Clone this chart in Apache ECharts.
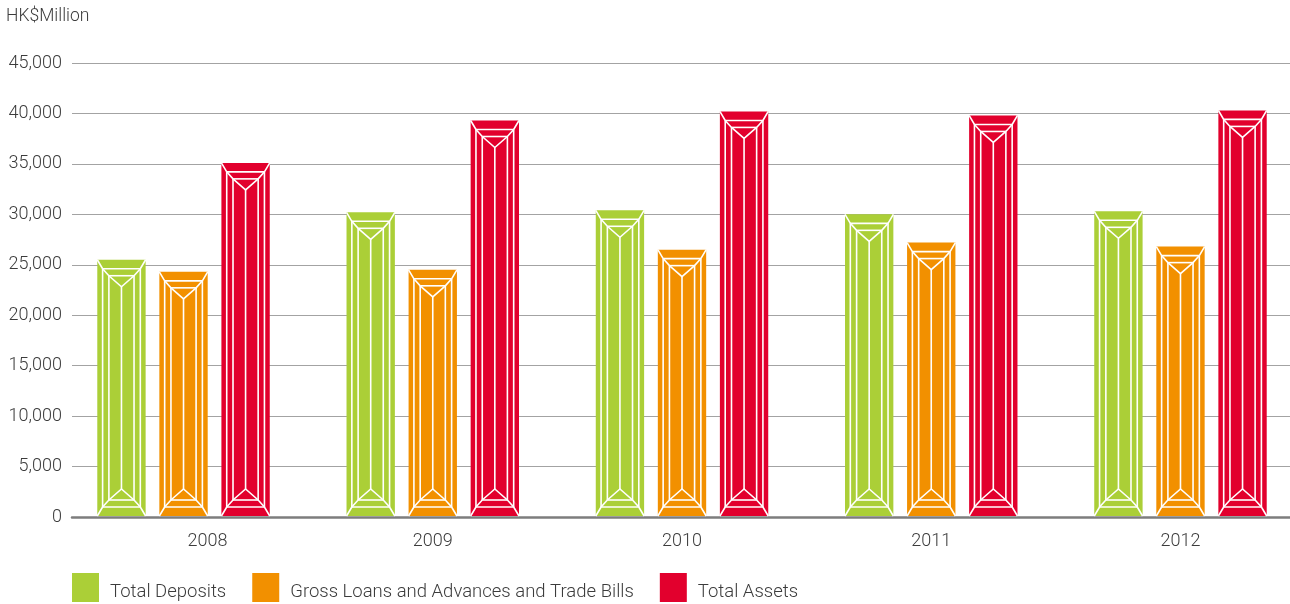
<!DOCTYPE html>
<html>
<head>
<meta charset="utf-8">
<script src="https://cdn.jsdelivr.net/npm/echarts@6/dist/echarts.min.js"></script>
<style>
  html, body { margin: 0; padding: 0; background: #ffffff; }
  #chart { width: 1290px; height: 604px; }
</style>
</head>
<body>
<div id="chart"></div>
<script>
// Financial highlights, HK$ million, year-end figures
const years = ['2008', '2009', '2010', '2011', '2012'];
const totalDeposits = [25500, 30200, 30400, 30000, 30300];
const grossLoans = [24300, 24500, 26500, 27200, 26800];
const totalAssets = [35100, 39300, 40200, 39800, 40300];
const seriesNames = ['Total Deposits', 'Gross Loans and Advances and Trade Bills', 'Total Assets'];
const seriesColors = ['#abcf37', '#f29000', '#e2002d'];
const yMin = 0, yMax = 45000, yStep = 5000;

const FONT = 'Roboto, "Liberation Sans", sans-serif';
const TEXT = '#3c3c3c';
const WEIGHT = 300;

// Faceted "gem" bar: solid block with white facet lines, placed in the category band
function gemRenderer(slot) {
  return function (params, api) {
    const cat = api.value(0);
    const val = api.value(1);
    const topPt = api.coord([cat, val]);
    const basePt = api.coord([cat, 0]);
    const band = api.size([1, 0])[0];
    const W = band * 0.194;
    const pitch = band * 0.249;
    const C = topPt[0] + (slot - 1) * pitch;
    const L = C - W / 2, R = C + W / 2;
    const T = topPt[1], B = basePt[1] - 1;
    const a = W * 0.11, b = W * 0.24;
    const h1 = 9, h2 = 16, h3 = 27;
    const ls = { stroke: '#ffffff', lineWidth: 1.6, fill: null };
    const seg = (x1, y1, x2, y2) => ({ type: 'line', shape: { x1, y1, x2, y2 }, style: ls });
    const poly = pts => ({ type: 'polyline', shape: { points: pts }, style: ls });
    return {
      type: 'group',
      children: [
        { type: 'rect', shape: { x: L, y: T, width: W, height: B - T }, style: { fill: api.visual('color') } },
        // crown
        poly([[L, T], [L + a, T + h1], [L + b, T + h2], [C, T + h3], [R - b, T + h2], [R - a, T + h1], [R, T]]),
        seg(L + a, T + h1, R - a, T + h1),
        seg(L + b, T + h2, R - b, T + h2),
        // pavilion
        poly([[L, B], [L + a, B - h1], [L + b, B - h2], [C, B - h3], [R - b, B - h2], [R - a, B - h1], [R, B]]),
        seg(L + a, B - h1, R - a, B - h1),
        seg(L + b, B - h2, R - b, B - h2),
        // vertical facets
        seg(L + a, T + h1, L + a, B - h1),
        seg(L + b, T + h2, L + b, B - h2),
        seg(C, T + h3, C, B - h3),
        seg(R - b, T + h2, R - b, B - h2),
        seg(R - a, T + h1, R - a, B - h1)
      ]
    };
  };
}

const seriesValues = [totalDeposits, grossLoans, totalAssets];

const chart = echarts.init(document.getElementById('chart'), null, { renderer: 'canvas' });
chart.setOption({
  animation: false,
  backgroundColor: '#ffffff',
  title: {
    text: 'HK$Million',
    left: 1, top: 3,
    textStyle: { fontFamily: FONT, fontSize: 17.5, fontWeight: WEIGHT, color: TEXT }
  },
  legend: {
    left: 72, top: 573, padding: 0,
    itemWidth: 27, itemHeight: 29, itemGap: 26,
    icon: 'rect',
    data: seriesNames,
    formatter: name => '{t|' + name + '}',
    textStyle: {
      fontFamily: FONT, fontSize: 18.5, fontWeight: WEIGHT, color: TEXT,
      rich: { t: { fontFamily: FONT, fontSize: 18.5, fontWeight: WEIGHT, color: TEXT, padding: [9, 0, 0, 6] } }
    }
  },
  grid: [
    { left: 72, right: 0, top: 63, bottom: 87, containLabel: false, outerBoundsMode: 'none' },
    { left: 58.9, width: 1246.2, top: 63, bottom: 87, containLabel: false, outerBoundsMode: 'none' }
  ],
  xAxis: [
    {
      gridIndex: 0, type: 'value', min: 0, max: 1,
      axisLine: { show: true, onZero: false, lineStyle: { color: '#7d7d7d', width: 2.5 } },
      axisTick: { show: false }, axisLabel: { show: false }, splitLine: { show: false }
    },
    {
      gridIndex: 1, type: 'category',
      data: years.map((y, i) => i === 0 ? { value: y, textStyle: { padding: [0, 0, 0, 48] } } : y),
      axisLine: { show: false }, axisTick: { show: false },
      axisLabel: { margin: 15, fontFamily: FONT, fontSize: 18, fontWeight: WEIGHT, color: TEXT }
    }
  ],
  yAxis: [
    {
      gridIndex: 0, type: 'value', min: yMin, max: yMax, interval: yStep,
      axisLine: { show: false }, axisTick: { show: false },
      axisLabel: {
        margin: 10, fontFamily: FONT, fontSize: 18, fontWeight: WEIGHT, color: TEXT,
        formatter: v => v.toLocaleString('en-US')
      },
      splitLine: { show: true, lineStyle: { color: '#a3a3a3', width: 1.2 } }
    },
    {
      gridIndex: 1, type: 'value', min: yMin, max: yMax, interval: yStep,
      show: false
    }
  ],
  series: seriesNames.map((name, s) => ({
    name: name,
    type: 'custom',
    xAxisIndex: 1, yAxisIndex: 1,
    itemStyle: { color: seriesColors[s] },
    encode: { x: 0, y: 1 },
    renderItem: gemRenderer(s),
    data: seriesValues[s].map((v, i) => [i, v]),
    z: 3
  }))
});
</script>
</body>
</html>
